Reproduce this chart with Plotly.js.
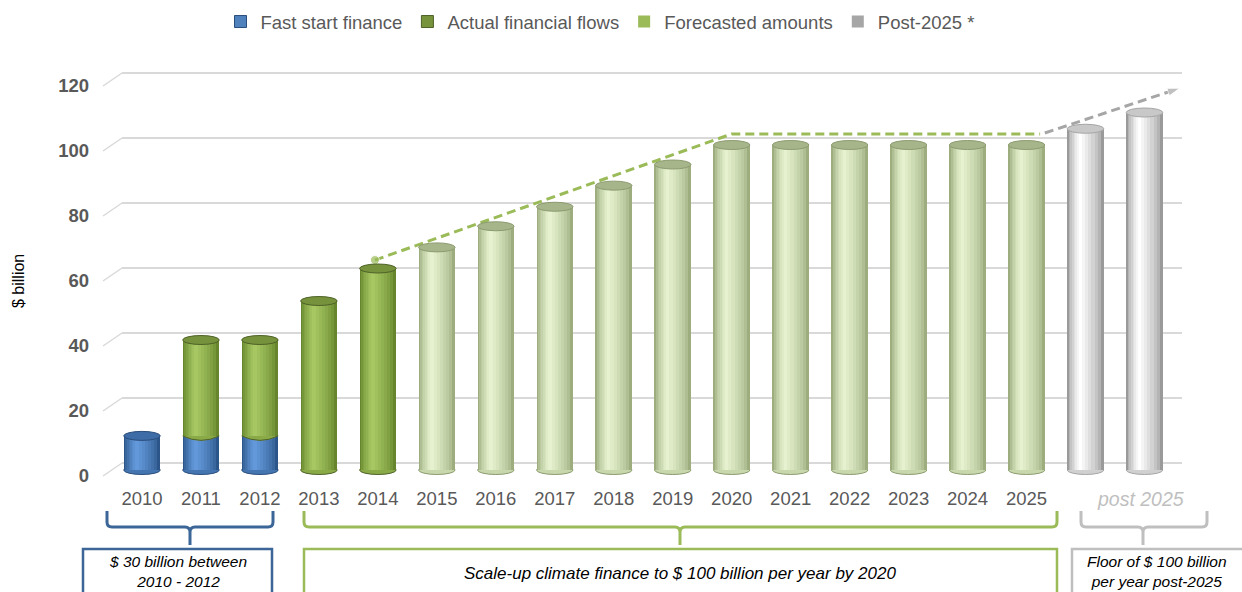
<!DOCTYPE html>
<html>
<head>
<meta charset="utf-8">
<script src="https://cdn.plot.ly/plotly-3.0.1.min.js"></script>
<style>html,body{margin:0;padding:0;background:#fff;}#chart{width:1242px;height:592px;}</style>
</head>
<body>
<div id="chart"></div>
<script>
// ---------- DATA ----------
const yearLabels = ['2010','2011','2012','2013','2014','2015','2016','2017','2018','2019','2020','2021','2022','2023','2024','2025'];
const postLabel = 'post 2025';
// category index: 0..15 = 2010..2025, 16 and 17 = the two post-2025 bars
const fastStartX = [0, 1, 2];
const fastStartY = [10.5, 10.5, 10.5];
const actualX = [1, 2, 3, 4];
const actualY = [29.5, 29.5, 52, 62];          // stacked on fast start in 2011-2012
const forecastX = [5, 6, 7, 8, 9, 10, 11, 12, 13, 14, 15];
const forecastY = [68.5, 75, 81, 87.5, 94, 100, 100, 100, 100, 100, 100];
const postX = [16, 17];
const postY = [105, 110];
const trendX = [3.95, 10.0, 15.23];
const trendY = [64.6, 103.4, 103.4];
const postTrendX = [15.31, 17.6];
const postTrendY = [103.7, 117.5];
const yTicks = [0, 20, 40, 60, 80, 100, 120];
const groupTexts = ['$ 30 billion between<br>2010 - 2012',
                    'Scale-up climate finance to $ 100 billion per year by 2020',
                    'Floor of $ 100 billion<br>per year post-2025'];
const legendNames = ['Fast start finance', 'Actual financial flows', 'Forecasted amounts', 'Post-2025 *'];

// ---------- geometry helpers ----------
const PL = 122, PR = 1182, PT = 55, PB = 480;     // plot area in px
const PXU = 3.25;                                 // px per $ billion
const W = 0.62;                                   // bar width (category units)
const E = 4.5 / PXU;                              // ellipse half-height
const X = px => (px - PL) / (PR - PL);
const Y = py => (PB - py) / (PB - PT);

function hex2rgb(h){h=h.replace('#','');return [0,2,4].map(i=>parseInt(h.substr(i,2),16));}
function mix(a,b,t){const A=hex2rgb(a),B=hex2rgb(b);return 'rgb('+A.map((v,i)=>Math.round(v+(B[i]-v)*t)).join(',')+')';}

const traces = [];
const shapes = [];
const N = 8;
function cylinder(xs, ys, bases, pal, coveredXs){
  for(let i=0;i<N;i++){
    const s = i/(N-1);
    const w = W*(1-0.9*s);
    const c = -0.14*W*s;
    traces.push({type:'bar', x:xs, y:ys, base:bases, width:w, offset:c-w/2,
      marker:{color:mix(pal.edge, pal.light, Math.pow(s,0.7)), line:{width:0}},
      showlegend:false, hoverinfo:'skip'});
  }
  xs.forEach((x,k)=>{
    const b = bases ? bases[k] : 0;
    const top = b + ys[k];
    if(!(coveredXs && coveredXs.indexOf(x) >= 0)){
      shapes.push({type:'circle', xref:'x', yref:'y', x0:x-W/2, x1:x+W/2, y0:top-E, y1:top+E,
        fillcolor:pal.top, line:{color:pal.line, width:1}, layer:'above'});
    }
    if(b === 0){
      shapes.push({type:'circle', xref:'x', yref:'y', x0:x-W/2, x1:x+W/2, y0:-E, y1:E,
        fillcolor:pal.mid, line:{color:pal.line, width:1}, layer:'below'});
    } else {
      // curved boundary where the upper series sits on the lower one
      const p = 'M '+(x-W/2)+' '+b+' L '+(x+W/2)+' '+b+' Q '+x+' '+(b-2*E)+' '+(x-W/2)+' '+b+' Z';
      shapes.push({type:'path', xref:'x', yref:'y', path:p, fillcolor:pal.mid, line:{width:0}, layer:'above'});
      const a = 'M '+(x+W/2)+' '+b+' Q '+x+' '+(b-2*E)+' '+(x-W/2)+' '+b;
      shapes.push({type:'path', xref:'x', yref:'y', path:a, fillcolor:'rgba(0,0,0,0)', line:{color:pal.line, width:1}, layer:'above'});
    }
  });
}

const blue   = {edge:'#2C5689', light:'#6399DA', mid:'#4575B0', top:'#3E6CA6', line:'#2A4E7C'};
const green  = {edge:'#66852C', light:'#A6C762', mid:'#8AAA48', top:'#76923C', line:'#4F6228'};
const fore   = {edge:'#9DAD7E', light:'#E6F2CF', mid:'#C9D8AC', top:'#A7B58B', line:'#8C9B70'};
const grey   = {edge:'#9A9A9A', light:'#FFFFFF', mid:'#D0D0D0', top:'#C8C8C8', line:'#A6A6A6'};

cylinder(fastStartX, fastStartY, null, blue, actualX);
const actualBase = actualX.map(x => { const k = fastStartX.indexOf(x); return k >= 0 ? fastStartY[k] : 0; });
cylinder(actualX, actualY, actualBase, green);
cylinder(forecastX, forecastY, null, fore);
cylinder(postX, postY, null, grey);

// legend-only entries
const legendColors = [['#4F81BD','#2A4E7C',1],['#77933C','#4F6228',1],['#9BBB59','#9BBB59',0],['#A6A6A6','#A6A6A6',0]];
legendNames.forEach((n,i)=>{
  traces.push({type:'bar', x:[null], y:[null], name:n, showlegend:true,
    marker:{color:legendColors[i][0], line:{color:legendColors[i][1], width:legendColors[i][2]}}, hoverinfo:'skip'});
});

// trend lines
traces.push({type:'scatter', mode:'lines+markers', x:trendX, y:trendY, showlegend:false, hoverinfo:'skip',
  line:{color:'#9BBB59', width:3, dash:'9px,5px'}, marker:{color:'#9BBB59', size:trendX.map((v,i)=>i===0?9:0)}});
traces.push({type:'scatter', mode:'lines+markers', x:postTrendX, y:postTrendY, showlegend:false, hoverinfo:'skip',
  line:{color:'#A6A6A6', width:3, dash:'9px,5px'},
  marker:{color:'#A6A6A6', symbol:'arrow', angleref:'previous', size:postTrendX.map((v,i)=>i===postTrendX.length-1?13:0)}});

// perspective gridlines
const gridShift = 7 / PXU, labelShift = 6 / PXU;
yTicks.forEach(v=>{
  shapes.push({type:'line', xref:'paper', yref:'y', x0:0, x1:1, y0:v+gridShift, y1:v+gridShift, line:{color:'#D9D9D9', width:2}, layer:'below'});
  shapes.push({type:'line', xref:'paper', yref:'y', x0:X(103), x1:0, y0:v-labelShift, y1:v+gridShift, line:{color:'#D9D9D9', width:1.5}, layer:'below'});
});

// brackets and boxes under the axis
const groups = [
  {x0:107, x1:273, xm:190, bx0:83, bx1:272, color:'#3D6698', tx:178, ty:571.5, fs:15.5},
  {x0:304, x1:1057, xm:680, bx0:304, bx1:1057, color:'#9BBB59', tx:680, ty:573, fs:17},
  {x0:1081, x1:1207, xm:1143, bx0:1072, bx1:1262, color:'#BFBFBF', tx:1157, ty:571.5, fs:15.5}
];
const annotations = [];
groups.forEach((g,i)=>{
  const yt=511, yh=527, ytip=545, r=5;
  const P=(x,y)=>X(x)+','+Y(y);
  const path = 'M '+P(g.x0,yt)+' L '+P(g.x0,yh-r)+' Q '+P(g.x0,yh)+' '+P(g.x0+r,yh)+
    ' L '+P(g.xm-r,yh)+' Q '+P(g.xm,yh)+' '+P(g.xm,yh+r)+' L '+P(g.xm,ytip)+
    ' M '+P(g.xm,yh+r)+' Q '+P(g.xm,yh)+' '+P(g.xm+r,yh)+' L '+P(g.x1-r,yh)+' Q '+P(g.x1,yh)+' '+P(g.x1,yh-r)+' L '+P(g.x1,yt);
  shapes.push({type:'path', xref:'paper', yref:'paper', path:path, fillcolor:'rgba(0,0,0,0)', line:{color:g.color, width:3}});
  shapes.push({type:'rect', xref:'paper', yref:'paper', x0:X(g.bx0), x1:X(g.bx1), y0:Y(604), y1:Y(549),
    fillcolor:'rgba(0,0,0,0)', line:{color:g.color, width:2.5}});
  annotations.push({xref:'paper', yref:'paper', x:X(g.tx), y:Y(g.ty), xanchor:'center', yanchor:'middle',
    text:groupTexts[i], showarrow:false, align:'center',
    font:{family:'Liberation Sans, Arial, sans-serif', size:g.fs, color:'#000', style:'italic'}});
});
annotations.push({xref:'paper', yref:'paper', x:X(1140), y:Y(499), xanchor:'center', yanchor:'middle',
  text:postLabel, showarrow:false, font:{family:'Liberation Sans, Arial, sans-serif', size:19.5, color:'#BFBFBF', style:'italic'}});
annotations.push({xref:'paper', yref:'paper', x:X(18), y:Y(281), xanchor:'center', yanchor:'middle', textangle:-90,
  text:'$ billion', showarrow:false, font:{family:'Liberation Sans, Arial, sans-serif', size:16, color:'#000'}});

const layout = {
  width:1242, height:592,
  margin:{l:PL, r:1242-PR, t:PT, b:592-PB, autoexpand:false},
  paper_bgcolor:'#fff', plot_bgcolor:'rgba(0,0,0,0)',
  barmode:'overlay', bargap:0,
  font:{family:'Liberation Sans, Arial, sans-serif', color:'#595959'},
  showlegend:true,
  legend:{orientation:'h', x:X(600), xanchor:'center', y:Y(22), yanchor:'middle',
    font:{size:18.5, color:'#595959'}, itemwidth:30, traceorder:'normal', bgcolor:'rgba(0,0,0,0)'},
  xaxis:{range:[-0.339, 17.636], tickvals:yearLabels.map((_,i)=>i), ticktext:yearLabels,
    showgrid:false, zeroline:false, showline:false, ticks:'', ticklabelstandoff:5,
    tickfont:{size:18.5, color:'#595959'}, fixedrange:true},
  yaxis:{range:[-(PB-470)/PXU, (470-PT)/PXU], tickvals:yTicks, showgrid:false, zeroline:false, showline:false,
    ticks:'', ticklabelshift:6, ticklabelstandoff:32,
    tickfont:{size:18.5, color:'#595959', weight:'bold'}, fixedrange:true},
  shapes:shapes, annotations:annotations
};
Plotly.newPlot('chart', traces, layout, {staticPlot:true, displayModeBar:false});
</script>
</body>
</html>
